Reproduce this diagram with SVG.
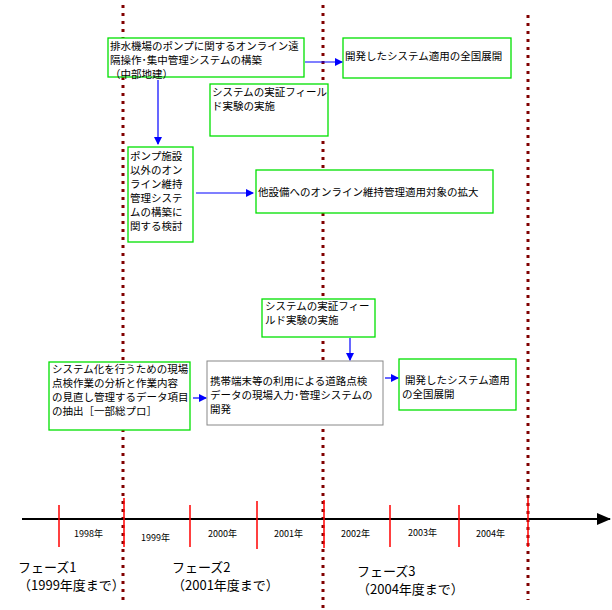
<svg xmlns="http://www.w3.org/2000/svg" width="612" height="610" viewBox="0 0 612 610">
<style>
text{font-family:"Noto Sans CJK JP","Liberation Sans",sans-serif;font-size:10.5px;fill:#000}
.g{fill:#fff;stroke:#00e000;stroke-width:1.3}
.k{fill:#fff;stroke:#888;stroke-width:1}
.d{stroke:#800000;stroke-width:3;stroke-dasharray:3,5}
.b{stroke:#0000ff;stroke-width:1.2;fill:none;marker-end:url(#a)}
.r{stroke:#ff0000;stroke-width:1.5}
.y{font-size:9px}
.p{font-size:13px}
</style>
<defs><marker id="a" markerWidth="8" markerHeight="8" refX="7" refY="4" orient="auto" markerUnits="userSpaceOnUse"><path d="M0,0L8,4L0,8z" fill="#0000ff"/></marker>
<marker id="k" markerWidth="14" markerHeight="12" refX="13" refY="6" orient="auto" markerUnits="userSpaceOnUse"><path d="M0,0L14,6L0,12z" fill="#000"/></marker></defs>
<g id="phases"><line class="d" x1="123" y1="5" x2="123" y2="600"/><line class="d" x1="323" y1="5" x2="323" y2="608"/><line class="d" x1="528" y1="15" x2="528" y2="600"/></g>
<g id="timeline">
<line x1="22" y1="519" x2="610" y2="519" stroke="#000" stroke-width="2" marker-end="url(#k)"/>
<line class="r" x1="59" y1="505" x2="59" y2="547"/><line class="r" x1="124" y1="498" x2="124" y2="547"/><line class="r" x1="190" y1="505" x2="190" y2="547"/><line class="r" x1="257" y1="501" x2="257" y2="549"/><line class="r" x1="324" y1="500" x2="324" y2="548"/><line class="r" x1="390" y1="505" x2="390" y2="547"/><line class="r" x1="459" y1="505" x2="459" y2="547"/><line class="r" x1="528" y1="498" x2="528" y2="547"/>
<text class="y" x="74" y="537">1998年</text><text class="y" x="141" y="541">1999年</text><text class="y" x="208" y="537">2000年</text><text class="y" x="274" y="537">2001年</text><text class="y" x="341" y="537">2002年</text><text class="y" x="408" y="536">2003年</text><text class="y" x="476" y="537">2004年</text>
<text class="p" x="18" y="572">フェーズ1</text><text class="p" x="18" y="590">（1999年度まで）</text>
<text class="p" x="172" y="572">フェーズ2</text><text class="p" x="172" y="590">（2001年度まで）</text>
<text class="p" x="357" y="576">フェーズ3</text><text class="p" x="357" y="594">（2004年度まで）</text>
</g>
<g id="n1"><rect class="g" x="108" y="38" width="196" height="39"/><text x="110" y="50">排水機場のポンプに関するオンライン遠</text><text x="110" y="64">隔操作･集中管理システムの構築</text><text x="110" y="78">（中部地建）</text></g>
<g id="n2"><rect class="g" x="210" y="84" width="118" height="52"/><text x="212" y="96">システムの実証フィール</text><text x="212" y="110">ド実験の実施</text></g>
<g id="n3"><rect class="g" x="128" y="147" width="65" height="95"/><text x="130" y="160">ポンプ施設</text><text x="130" y="174">以外のオン</text><text x="130" y="188">ライン維持</text><text x="130" y="202">管理システ</text><text x="130" y="216">ムの構築に</text><text x="130" y="230">関する検討</text></g>
<g id="n4"><rect class="g" x="256" y="170" width="237" height="43"/><text x="258" y="196">他設備へのオンライン維持管理適用対象の拡大</text></g>
<g id="n5"><rect class="g" x="343" y="38" width="168" height="40"/><text x="345" y="60">開発したシステム適用の全国展開</text></g>
<g id="n6"><rect class="g" x="262" y="299" width="113" height="38"/><text x="265" y="310">システムの実証フィー</text><text x="265" y="324">ルド実験の実施</text></g>
<g id="n7"><rect class="g" x="49" y="362" width="141" height="68"/><text x="52" y="373">システム化を行うための現場</text><text x="52" y="387">点検作業の分析と作業内容</text><text x="52" y="401">の見直し管理するデータ項目</text><text x="52" y="415">の抽出［一部総プロ］</text></g>
<g id="n8"><rect class="k" x="207" y="361" width="176" height="64"/><text x="210" y="385">携帯端末等の利用による道路点検</text><text x="210" y="399">データの現場入力･管理システムの</text><text x="210" y="413">開発</text></g>
<g id="n9"><rect class="g" x="399" y="359" width="117" height="51"/><text x="405" y="384">開発したシステム適用</text><text x="402" y="398">の全国展開</text></g>
<g id="connectors">
<line class="b" x1="305" y1="62" x2="342" y2="62"/>
<line class="b" x1="158" y1="80" x2="158" y2="144"/>
<line class="b" x1="196" y1="193" x2="253" y2="193"/>
<line class="b" x1="350" y1="338" x2="350" y2="360"/>
<line class="b" x1="193" y1="398" x2="206" y2="398"/>
<line class="b" x1="385" y1="378" x2="398" y2="378"/>
</g>
</svg>
